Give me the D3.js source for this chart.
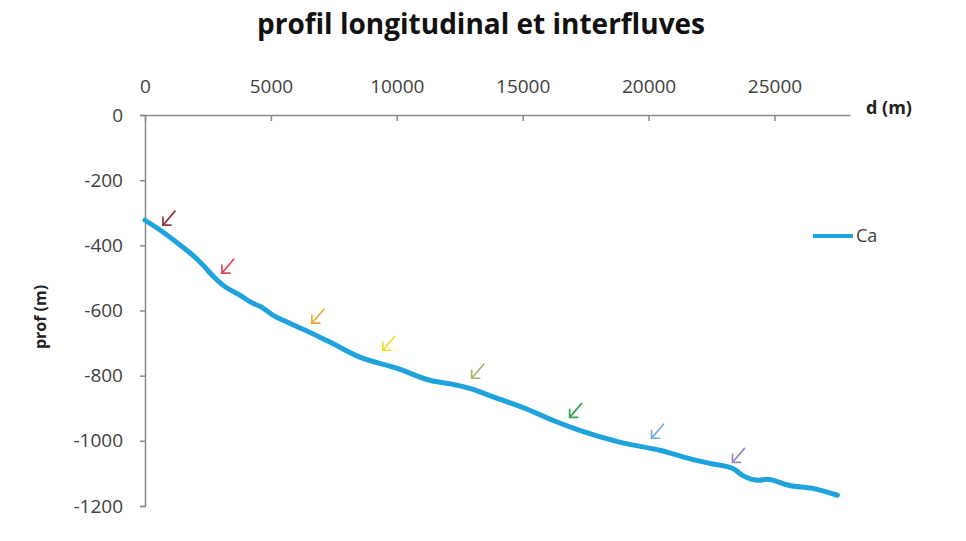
<!DOCTYPE html>
<html lang="en">
<head>
	<meta charset="utf-8">
	<title>profil longitudinal et interfluves</title>
	<script src="https://d3js.org/d3.v7.min.js"></script>
	<style type="text/css">
		body { margin: 0; background: #fff; }
		text { font-family: "Open Sans", sans-serif; }
	</style>
</head>
<body>
	<svg id="chart" style="width:966px; height:541px"></svg>

	<script type="text/javascript">
	// profile data (distance in m, depth in m)
	var distD = [0, 595, 1389, 2103, 2380, 2659, 3095, 3770, 4286, 4563, 5079, 5754, 6944, 7341,
		8532, 10000, 11310, 12381, 12897, 13968, 15278, 16190, 17262, 18849, 20437, 21905,
		22421, 23333, 23730, 24405, 24683, 25595, 26508, 27500]
	var profCa = [-323, -353, -399, -445, -467, -491, -522, -553, -578, -587, -614, -639, -682, -697,
		-743, -777, -814, -829, -839, -869, -906, -937, -968, -1004, -1029, -1060,
		-1069, -1084, -1106, -1121, -1118, -1137, -1146, -1167]
	var seriesName = "Ca"

	// interfluve arrows (tip position) and their colours
	var arrowD = [714, 3056, 6627, 9444, 12976, 16865, 20119, 23333]
	var arrowProf = [-338, -485, -639, -722, -808, -928, -992, -1066]
	var arrowColors = ["#8c3a3a", "#e8405a", "#f0a830", "#f2dc2a", "#b0b070", "#3aa050", "#70a8e0", "#9a88c0"]

	var xTicks = [0, 5000, 10000, 15000, 20000, 25000]
	var yTicks = [0, -200, -400, -600, -800, -1000, -1200]

	var lineColor = "#1fa3dc"
	var axisColor = "#8a8a8a"
	var labelColor = "#404040"

	var svg = d3.select("#chart")

	var x = d3.scaleLinear().domain([0, 28000]).range([145, 850])
	var y = d3.scaleLinear().domain([-1200, 0]).range([506, 115])
	var plain = d => String(d)

	// title
	svg.append("text")
		.attr("x", 481).attr("y", 34)
		.attr("text-anchor", "middle")
		.style("font-size", "28px").style("font-weight", "bold")
		.attr("fill", "#111")
		.text("profil longitudinal et interfluves")

	// x axis on top (y = 0)
	var xAxis = svg.append("g")
		.attr("transform", "translate(0," + y(0) + ")")
		.call(d3.axisTop(x).tickValues(xTicks).tickFormat(plain).tickSizeInner(-6).tickSizeOuter(0).tickPadding(22))
	xAxis.select(".domain").attr("stroke", axisColor).attr("stroke-width", 1.5)
	xAxis.selectAll(".tick line").attr("stroke", axisColor).attr("stroke-width", 1.5)
	xAxis.selectAll(".tick text").attr("fill", labelColor).style("font-size", "19px")

	// y axis
	var yAxis = svg.append("g")
		.attr("transform", "translate(" + x(0) + ",0)")
		.call(d3.axisLeft(y).tickValues(yTicks).tickFormat(plain).tickSize(5).tickPadding(17))
	yAxis.select(".domain").attr("stroke", axisColor).attr("stroke-width", 1.5)
	yAxis.selectAll(".tick line").attr("stroke", axisColor).attr("stroke-width", 1.5)
	yAxis.selectAll(".tick text").attr("fill", labelColor).style("font-size", "19px")

	// axis titles
	svg.append("text")
		.attr("x", 866).attr("y", 114)
		.style("font-size", "18px").style("font-weight", "bold")
		.attr("fill", "#222")
		.text("d (m)")

	svg.append("text")
		.attr("transform", "translate(46,317) rotate(-90)")
		.attr("text-anchor", "middle")
		.style("font-size", "16px").style("font-weight", "bold")
		.attr("fill", "#222")
		.text("prof (m)")

	// profile line
	var pts = distD.map((d, i) => [d, profCa[i]])
	var line = d3.line().x(d => x(d[0])).y(d => y(d[1])).curve(d3.curveMonotoneX)
	svg.append("path")
		.datum(pts)
		.attr("d", line)
		.attr("fill", "none")
		.attr("stroke", lineColor)
		.attr("stroke-width", 5)
		.attr("stroke-linejoin", "round")
		.attr("stroke-linecap", "round")

	// arrows pointing to the profile
	var arrows = svg.append("g").selectAll("g")
		.data(arrowD.map((d, i) => ({d: d, p: arrowProf[i], c: arrowColors[i]})))
		.join("g")
		.attr("transform", d => "translate(" + x(d.d) + "," + y(d.p) + ")")
		.attr("stroke", d => d.c)
		.attr("stroke-width", 1.7)
		.attr("stroke-linecap", "round")
		.attr("fill", "none")
	arrows.append("line").attr("x1", 0).attr("y1", 0).attr("x2", 12).attr("y2", -14)
	arrows.append("path").attr("d", "M0,-8 L0,0 L8,0")

	// legend
	svg.append("line")
		.attr("x1", 813).attr("x2", 853).attr("y1", 236).attr("y2", 236)
		.attr("stroke", lineColor).attr("stroke-width", 4)
	svg.append("text")
		.attr("x", 856).attr("y", 242)
		.style("font-size", "18px")
		.attr("fill", labelColor)
		.text(seriesName)
	</script>
</body>
</html>
